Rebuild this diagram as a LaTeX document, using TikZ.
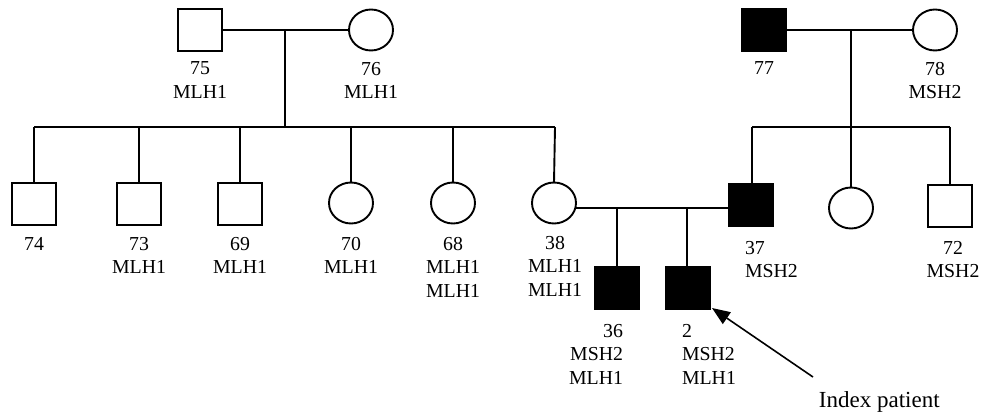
\documentclass[tikz,border=0pt]{standalone}
\usepackage{fontspec}
\setmainfont{Liberation Serif}
\usetikzlibrary{shapes.geometric,arrows.meta}
\begin{document}
\begin{tikzpicture}[x=1pt,y=-1pt,
  line width=1.9pt,
  male/.style={draw,rectangle,minimum width=44pt,minimum height=42pt,inner sep=0pt,outer sep=0pt},
  female/.style={draw,ellipse,minimum width=44pt,minimum height=41pt,inner sep=0pt,outer sep=0pt},
  aff/.style={fill=black},
  lbl/.style={inner sep=0pt,outer sep=0pt,align=center,anchor=north,font=\fontsize{19.8pt}{23.5pt}\selectfont},
  conn/.style={line width=1.9pt}
]
\useasboundingbox (0,0) rectangle (984,414);
% generation I
\node[male] (n75) at (200,30) {};
\node[female] (n76) at (371,30) {};
\node[male,aff] (n77) at (764,30) {};
\node[female] (n78) at (935,30) {};
% generation II
\node[male] (n74) at (34,204) {};
\node[male] (n73) at (139,204) {};
\node[male] (n69) at (240,204) {};
\node[female] (n70) at (351,203) {};
\node[female] (n68) at (453,203) {};
\node[female] (n38) at (554,203) {};
\node[male,aff] (n37) at (751,205) {};
\node[female] (nf) at (851,208) {};
\node[male] (n72) at (950,206) {};
% generation III
\node[male,aff] (n36) at (617,288) {};
\node[male,aff] (n2) at (688,288) {};
% coordinates
\coordinate (m1) at (285,30);
\coordinate (b1) at (285,127);
\coordinate (b1l) at (34,127);
\coordinate (b1r) at (555,127);
\coordinate (m2) at (851,30);
\coordinate (b2) at (851,127);
\coordinate (b2l) at (752,127);
\coordinate (b2r) at (950,127);
\coordinate (m3a) at (617,208);
\coordinate (m3b) at (687,208);
% marriages
\draw[conn] (n75.east) -- (n76.west);
\draw[conn] (n77.east) -- (n78.west);
\draw[conn] (n38.east |- m3a) -- (n37.west |- m3a);
% descent
\draw[conn] (m1) -- (b1);
\draw[conn] (b1l) -- (b1r);
\draw[conn] (b1l) -- (n74.north);
\draw[conn] (n73.north |- b1) -- (n73.north);
\draw[conn] (n69.north |- b1) -- (n69.north);
\draw[conn] (n70.north |- b1) -- (n70.north);
\draw[conn] (n68.north |- b1) -- (n68.north);
\draw[conn] (b1r) -- (n38.north);
\draw[conn] (m2) -- (b2);
\draw[conn] (b2l) -- (b2r);
\draw[conn] (b2l) -- (n37.north -| b2l);
\draw[conn] (b2) -- (nf.north);
\draw[conn] (b2r) -- (n72.north);
\draw[conn] (m3a) -- (n36.north);
\draw[conn] (m3b) -- (n2.north -| m3b);
% labels
\node[lbl] (l75) at (200,62) {75\\MLH1};
\node[lbl] (l76) at (371,62) {76\\MLH1};
\node[lbl] (l77) at (764,62) {77};
\node[lbl] (l78) at (935,62) {78\\MSH2};
\node[lbl] (l74) at (34,237) {74};
\node[lbl] (l73) at (139,237) {73\\MLH1};
\node[lbl] (l69) at (240,237) {69\\MLH1};
\node[lbl] (l70) at (351,237) {70\\MLH1};
\node[lbl] (l68) at (453,237) {68\\MLH1\\MLH1};
\node[lbl] (l38) at (555,236) {38\\MLH1\\MLH1};
\node[lbl,anchor=north west,align=left] (l37) at (745,241) {37\\MSH2};
\node[lbl] (l72) at (953,241) {72\\MSH2};
\node[lbl,anchor=north east,align=right] (l36) at (623,324) {36\\MSH2\\MLH1};
\node[lbl,anchor=north west,align=left] (l2) at (682,324) {2\\MSH2\\MLH1};
\node[inner sep=0pt,anchor=base west,font=\fontsize{23pt}{27pt}\selectfont] (idx) at (818,407) {Index patient};
\coordinate (arrstart) at (813,377);
\draw[line width=1.6pt,-{Triangle[length=18pt,width=14pt]}] (arrstart) -- ([xshift=2pt,yshift=1pt]n2.south east);
\end{tikzpicture}
\end{document}
